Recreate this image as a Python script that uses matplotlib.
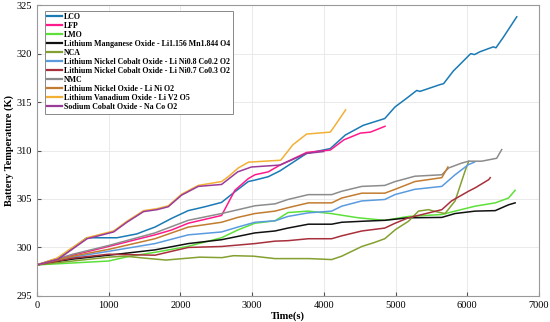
import matplotlib
matplotlib.use("Agg")
import matplotlib.pyplot as plt

# time (s) / temperature (K), one pair per material
lco_t = [0, 300, 697, 930, 1116, 1395, 1535, 1646, 1878, 2110, 2343, 2575, 2761, 2947, 3040, 3226,
         3389, 3760, 4090, 4300, 4550, 4850, 4993, 5156, 5296, 5340, 5620, 5670, 5805, 5900, 6048,
         6100, 6180, 6364, 6400, 6504, 6690]
lco_y = [298.2, 298.9, 301.0, 301.0, 301.0, 301.4, 301.8, 302.1, 303.0, 303.8, 304.2, 304.65, 305.75,
         306.8, 306.95, 307.3, 307.9, 309.7, 310.2, 311.6, 312.6, 313.3, 314.5, 315.4, 316.2, 316.1,
         316.8, 316.9, 318.2, 318.9, 320.0, 319.9, 320.2, 320.7, 320.6, 321.7, 323.8]

lfp_t = [0, 500, 1000, 1646, 1878, 2110, 2343, 2575, 2761, 2947, 3040, 3226, 3389, 3760, 4090, 4280,
         4510, 4650, 4853]
lfp_y = [298.2, 299.2, 300.1, 301.3, 301.8, 302.5, 302.9, 303.3, 305.9, 307.1, 307.5, 307.8, 308.5,
         309.8, 310.05, 311.1, 311.8, 311.9, 312.5]

lmo_t = [0, 500, 1000, 1300, 1650, 2100, 2575, 2800, 3040, 3320, 3500, 3780, 4100, 4480, 4850, 5180,
         5645, 5830, 6110, 6390, 6575, 6667]
lmo_y = [298.2, 298.4, 298.6, 299.1, 299.5, 300.1, 301.0, 301.8, 302.5, 302.75, 303.6, 303.75, 303.5,
         303.06, 302.8, 303.2, 303.4, 303.75, 304.26, 304.6, 305.1, 305.9]

limn_t = [0, 500, 1000, 1646, 2110, 2575, 3040, 3320, 3500, 3785, 4110, 4250, 4530, 4850, 5180, 5645,
          5830, 6110, 6390, 6575, 6667]
limn_y = [298.2, 298.8, 299.2, 299.75, 300.4, 300.8, 301.5, 301.7, 302.0, 302.4, 302.4, 302.6, 302.7,
          302.8, 303.06, 303.1, 303.5, 303.75, 303.8, 304.4, 304.6]

nca_t = [0, 500, 1000, 1230, 1500, 1800, 2270, 2580, 2740, 3020, 3320, 3800, 4110, 4250, 4530, 4700,
         4850, 5000, 5180, 5320, 5460, 5560, 5690, 5830, 5970, 6020]
nca_y = [298.2, 298.6, 299.0, 299.1, 298.9, 298.7, 299.0, 298.95, 299.15, 299.1, 298.85, 298.85,
         298.75, 299.1, 300.1, 300.5, 300.9, 301.85, 302.7, 303.75, 303.9, 303.7, 303.5, 304.8, 307.9,
         308.9]

ln82_t = [0, 500, 1000, 1646, 2110, 2575, 2800, 3040, 3320, 3500, 3785, 4110, 4250, 4530, 4850, 4994,
          5270, 5645, 5830, 6017, 6100]
ln82_y = [298.2, 299.0, 299.6, 300.4, 301.3, 301.6, 302.1, 302.6, 302.75, 303.2, 303.57, 303.75,
          304.26, 304.8, 304.95, 305.46, 306.0, 306.3, 307.5, 308.55, 308.8]

ln73_t = [0, 500, 1000, 1646, 2110, 2575, 3040, 3320, 3500, 3785, 4110, 4250, 4530, 4850, 4994, 5180,
          5370, 5645, 5780, 6017, 6110, 6300, 6320]
ln73_y = [298.2, 298.9, 299.3, 299.2, 300.0, 300.1, 300.4, 300.65, 300.7, 300.9, 300.9, 301.2, 301.7,
          302.0, 302.5, 303.06, 303.4, 303.9, 304.8, 305.8, 306.15, 307.0, 307.2]

nmc_t = [0, 500, 1000, 1646, 2110, 2575, 3040, 3320, 3500, 3785, 4110, 4250, 4530, 4850, 4994, 5270,
         5645, 5740, 5920, 6020, 6200, 6410, 6480]
nmc_y = [298.2, 299.3, 300.2, 301.5, 302.8, 303.5, 304.3, 304.5, 304.95, 305.45, 305.45, 305.8, 306.3,
         306.4, 306.8, 307.35, 307.5, 308.2, 308.7, 308.9, 308.9, 309.2, 310.1]

lno_t = [0, 500, 1000, 1646, 2110, 2575, 2800, 3040, 3320, 3500, 3785, 4110, 4250, 4530, 4850, 4994,
         5270, 5645, 5700, 5730]
lno_y = [298.2, 299.1, 299.8, 300.9, 302.1, 302.6, 303.1, 303.5, 303.75, 304.1, 304.6, 304.6, 305.1,
         305.6, 305.6, 306.0, 306.8, 307.2, 307.9, 308.3]

lvo_t = [0, 279, 697, 1070, 1255, 1488, 1674, 1832, 2018, 2250, 2575, 2668, 2808, 2950, 3400, 3570,
         3760, 4090, 4130, 4305]
lvo_y = [298.2, 298.9, 301.0, 301.7, 302.7, 303.8, 304.0, 304.3, 305.5, 306.4, 306.8, 307.3, 308.2,
         308.8, 309.0, 310.6, 311.7, 311.9, 312.3, 314.2]

naco_t = [0, 300, 700, 1070, 1255, 1488, 1674, 1832, 2018, 2250, 2575, 2800, 2990, 3389, 3760, 4000]
naco_y = [298.2, 298.8, 300.9, 301.6, 302.6, 303.7, 303.9, 304.2, 305.4, 306.3, 306.5, 307.8, 308.3,
          308.5, 309.7, 309.9]

labels = ["LCO", "LFP", "LMO", "Lithium Manganese Oxide - Li1.156 Mn1.844 O4", "NCA",
          "Lithium Nickel Cobalt Oxide - Li Ni0.8 Co0.2 O2",
          "Lithium Nickel Cobalt Oxide - Li Ni0.7 Co0.3 O2", "NMC",
          "Lithium Nickel Oxide - Li Ni O2", "Lithium Vanadium Oxide - Li V2 O5",
          "Sodium Cobalt Oxide - Na Co O2"]
series = [(lco_t, lco_y), (lfp_t, lfp_y), (lmo_t, lmo_y), (limn_t, limn_y), (nca_t, nca_y),
          (ln82_t, ln82_y), (ln73_t, ln73_y), (nmc_t, nmc_y), (lno_t, lno_y), (lvo_t, lvo_y),
          (naco_t, naco_y)]
colors = ["#1a7ab5", "#ff1a8c", "#5ee03a", "#111111", "#84a030", "#5a9be0", "#a8303c", "#8c8c8c",
          "#c27c30", "#f2b035", "#9a3a9a"]

plt.rcParams["font.family"] = ["Liberation Serif", "DejaVu Serif"]

fig = plt.figure(figsize=(5.5, 3.22), dpi=100)
ax = fig.add_axes([0.067, 0.081, 0.913, 0.903])

for (t, y), lab, c in zip(series, labels, colors):
    ax.plot(t, y, color=c, lw=1.1, label=lab)

ax.set_xlim(0, 7000)
ax.set_ylim(295, 325)
ax.set_xticks(range(0, 7001, 1000))
ax.set_yticks(range(295, 326, 5))
ax.grid(True, color="#e6e6e6", lw=0.6)
ax.tick_params(direction="in", labelsize=7.5, length=3, color="#555555")
for s in ax.spines.values():
    s.set_color("#999999")
    s.set_linewidth(0.8)

ax.set_xlabel("Time(s)", fontsize=7.5, fontweight="bold", labelpad=1)
ax.set_ylabel("Battery Temperature (K)", fontsize=7.5, fontweight="bold", labelpad=2)

leg = ax.legend(loc="upper left", prop={"weight": "bold", "size": 5.7},
                labelspacing=0.13, handlelength=1.9, handletextpad=0.25, borderpad=0.3,
                fancybox=False, edgecolor="#888888", framealpha=1, bbox_to_anchor=(0.008, 0.995))
leg.get_frame().set_linewidth(0.7)
for h in leg.get_lines():
    h.set_linewidth(1.6)

fig.savefig("out.png", dpi=100)
